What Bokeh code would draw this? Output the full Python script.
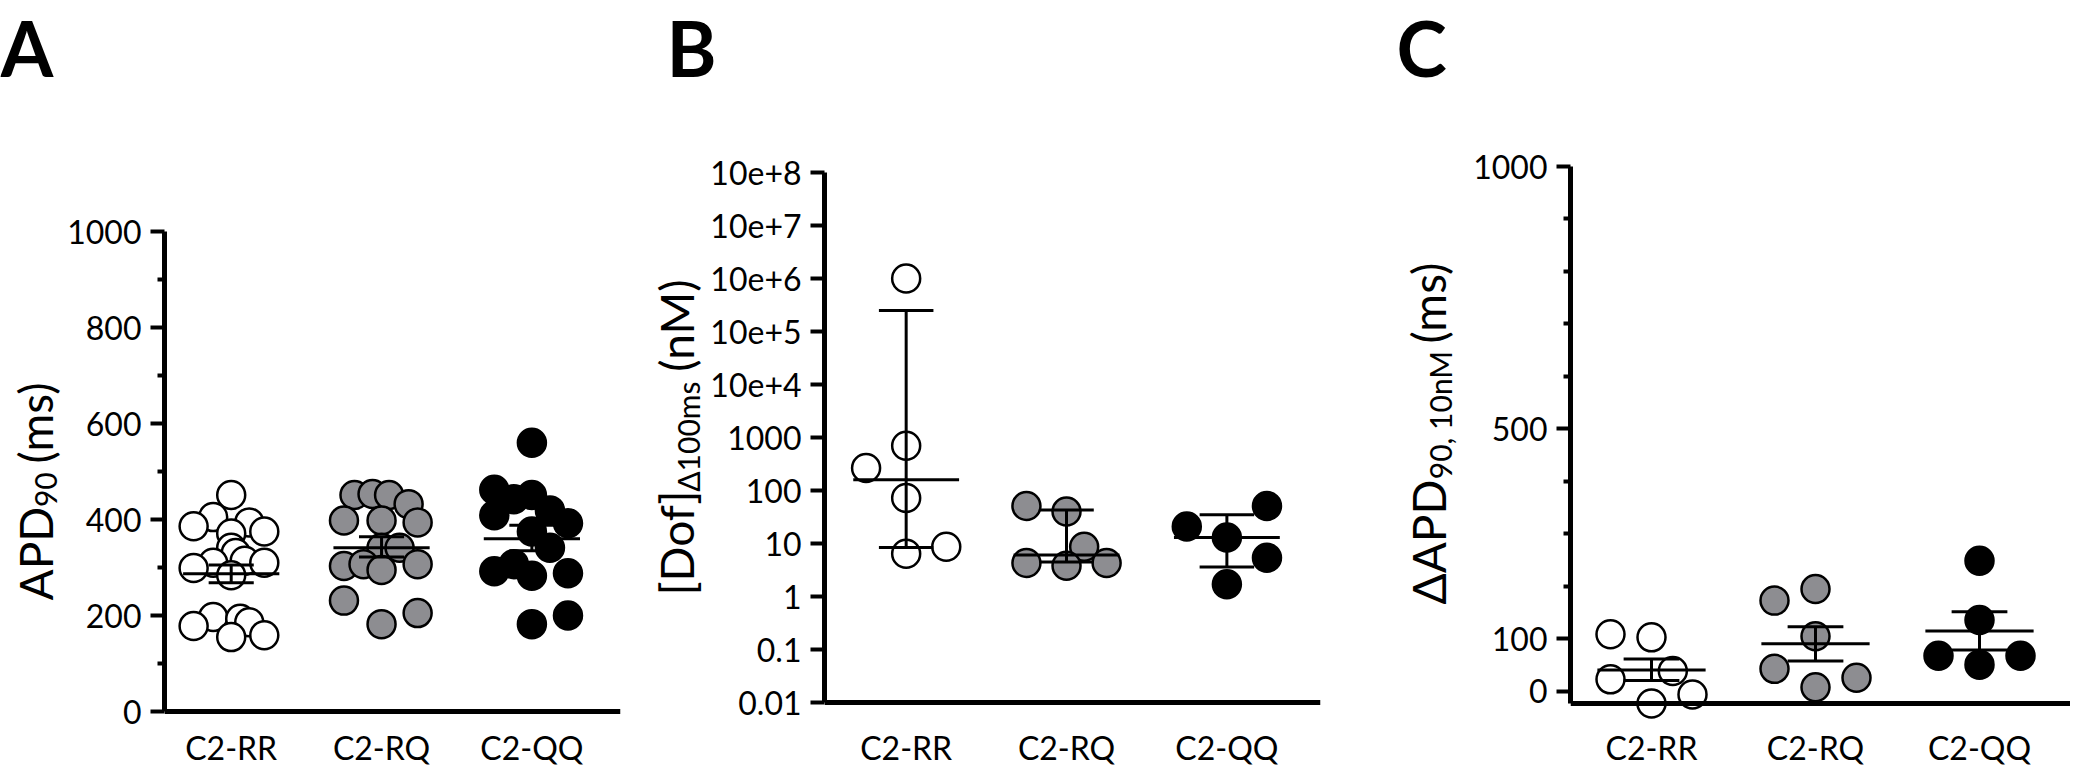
import math
from bokeh.plotting import figure
from bokeh.layouts import row, column
from bokeh.models import FixedTicker, Range1d
from bokeh.core.properties import value
from bokeh.embed import file_html
from bokeh.resources import INLINE

categories = ["C2-RR", "C2-RQ", "C2-QQ"]
panel_letters = ["A", "B", "C"]

# ---------------- Panel A : APD90 (ms) ----------------
a_rr = [451, 405, 394, 386, 375, 371, 341, 330, 310, 314, 299, 310, 284, 197, 193, 186, 178, 155, 159]
a_rr_jit = [0, -0.12, 0.12, -0.25, 0.22, 0, 0, 0.03, -0.12, 0.09, -0.25, 0.22, 0, -0.12, 0.06, 0.12, -0.25, 0, 0.22]
a_rq = [451, 453, 451, 432, 398, 398, 394, 341, 341, 303, 307, 295, 307, 231, 205, 182]
a_rq_jit = [-0.18, -0.06, 0.05, 0.18, -0.25, 0, 0.24, 0, 0.12, -0.25, -0.12, 0, 0.24, -0.25, 0.24, 0]
a_qq = [560, 462, 442, 451, 419, 392, 409, 375, 341, 307, 292, 283, 288, 200, 182]
a_qq_jit = [0, -0.25, -0.12, 0, 0.12, 0.24, -0.25, 0, 0.12, -0.12, -0.25, 0, 0.24, 0.24, 0]
a_mean = [287, 341, 360]
a_hi = [305, 364, 388]
a_lo = [268, 322, 335]
a_ticks = [0, 200, 400, 600, 800, 1000]
a_minor = [100, 300, 500, 700, 900]
a_title = ["APD", "90", "(ms)"]

# ---------------- Panel B : [Dof] delta100ms (nM), log axis ----------------
b_rr = [1.0e6, 700, 265, 72, 8.7, 6.4]
b_rr_jit = [0, 0, -0.25, 0, 0.25, 0]
b_rq = [51, 40, 8.7, 4.3, 3.8, 4.3]
b_rq_jit = [-0.25, 0, 0.11, -0.25, 0, 0.25]
b_qq = [51, 21, 13, 5.4, 1.7]
b_qq_jit = [0.25, -0.25, 0, 0.25, 0]
b_mid = [160, 6.1, 13]
b_hi = [2.5e5, 43, 35]
b_lo = [8.4, 4.5, 3.6]
b_ticks = [0.01, 0.1, 1, 10, 100, 1000, 1e4, 1e5, 1e6, 1e7, 1e8]
b_tick_labels = ["0.01", "0.1", "1", "10", "100", "1000", "10e+4", "10e+5", "10e+6", "10e+7", "10e+8"]
b_title = ["[Dof]", "\u0394100ms", "(nM)"]

# ---------------- Panel C : dAPD90,10nM (ms) ----------------
c_rr = [109, 103, 23, 39, -23, -6]
c_rr_jit = [-0.25, 0, -0.25, 0.13, 0, 0.25]
c_rq = [173, 195, 105, 43, 26, 8]
c_rq_jit = [-0.25, 0, 0, -0.25, 0.25, 0]
c_qq = [249, 136, 68, 68, 51]
c_qq_jit = [0, 0, -0.25, 0.25, 0]
c_mean = [41, 91, 115]
c_hi = [62, 123, 152]
c_lo = [21, 58, 79]
c_ticks = [0, 100, 500, 1000]
c_minor = [200, 300, 400, 600, 700, 800, 900]
c_axis_cross = -23
c_title = ["\u0394APD", "90, 10nM", "(ms)"]

FILLS = ["white", "#8d8d91", "black"]
FONT = "Lato"
ASC, DESC = 0.987, 0.213                 # Lato ascent / descent (em)
SHIFT_EM = (ASC - DESC) / 2              # glyph anchor sits this far above the drawn baseline

# ---------------- page geometry (page pixels) ----------------
PAGE_W = 2070
TOP_STRIP = (0, 95)      # panel letters
MID = (95, 770)          # plots, titles, category names
FT, FB = 166, 768        # common frame top / bottom of every figure of the middle row
CAT_SIZE = 32
CAT_BASE = 759


def base_fig(width, height, xr, yr, log=False, **borders):
    p = figure(width=width, height=height, x_range=Range1d(*xr), y_range=Range1d(*yr),
               y_axis_type="log" if log else "linear",
               output_backend="svg", toolbar_location=None, **borders)
    p.outline_line_color = None
    p.grid.visible = False
    p.background_fill_color = "white"
    p.border_fill_color = "white"
    return p


def text_fig(x0, x1, y0, y1, frame_top=None, frame_bot=None):
    """Figure without axes; data x = page x, data y = y1 - page y."""
    ft = y0 if frame_top is None else frame_top
    fb = y1 if frame_bot is None else frame_bot
    return base_fig(x1 - x0, y1 - y0, (x0, x1), (y1 - fb, y1 - ft),
                    x_axis_location=None, y_axis_location=None,
                    min_border_left=0, min_border_right=0,
                    min_border_top=ft - y0, min_border_bottom=y1 - fb)


def main_fig(x0, x1, fl, fr, c1, unit, y_map, log=False):
    """y_map = (value_a, page_y_a, value_b, page_y_b)."""
    va, pa, vb, pb = y_map
    if log:
        la, lb = math.log10(va), math.log10(vb)
        per = (pa - pb) / (lb - la)
        yr = (10 ** (la - (FB - pa) / per), 10 ** (lb + (pb - FT) / per))

        def ydata(py):
            return 10 ** (la + (pa - py) / per)
    else:
        per = (pa - pb) / (vb - va)
        yr = (va - (FB - pa) / per, vb + (pb - FT) / per)

        def ydata(py):
            return va + (pa - py) / per
    xr = (1 + (fl - c1) / unit, 1 + (fr - c1) / unit)
    p = base_fig(x1 - x0, MID[1] - MID[0], xr, yr, log=log,
                 min_border_left=fl - x0, min_border_right=x1 - fr,
                 min_border_top=FT - MID[0], min_border_bottom=MID[1] - FB)
    for ax in p.axis:
        ax.axis_line_width = 5
        ax.axis_line_color = "black"
        ax.major_tick_line_width = 4
        ax.minor_tick_line_width = 4
        ax.major_tick_in = 0
        ax.minor_tick_in = 0
        ax.major_label_text_font = FONT
        ax.major_label_text_font_size = "32px"
        ax.major_label_text_color = "black"
    p.xaxis.ticker = FixedTicker(ticks=[])
    p.xaxis.major_tick_out = 0
    p.xaxis.minor_tick_out = 0
    p.yaxis.major_tick_out = 14
    p.yaxis.minor_tick_out = 7
    p.yaxis.major_label_standoff = 9
    p.yaxis.bounds = (va, vb)
    p.xaxis.fixed_location = va
    # category names under the axis
    yc = ydata(CAT_BASE - SHIFT_EM * CAT_SIZE)
    p.text(x=[1, 2, 3], y=[yc] * 3, text=categories,
           text_font=value(FONT), text_font_size=value(f"{CAT_SIZE}px"),
           text_align="center", text_baseline="alphabetic", text_color="black")
    return p


def draw_groups(p, groups, jits, mid, hi, lo, half_mean, half_cap):
    for i, (vals, jit) in enumerate(zip(groups, jits)):
        xs = [i + 1 + d for d in jit]
        p.scatter(xs, vals, size=28, marker="circle", fill_color=FILLS[i],
                  line_color="black", line_width=2.5)
    cx = [i + 1 for i in range(len(mid))]
    kw = dict(line_color="black", line_width=3)
    p.segment([c - half_mean for c in cx], mid, [c + half_mean for c in cx], mid, **kw)
    p.segment([c - half_cap for c in cx], hi, [c + half_cap for c in cx], hi, **kw)
    p.segment([c - half_cap for c in cx], lo, [c + half_cap for c in cx], lo, **kw)
    p.segment(cx, lo, cx, hi, **kw)


def title_fig(x0, x1, base_px, start_py, parts, widths_em, main=46, sub=30, sub_shift=4, gap_em=0.193):
    """Vertical axis title (reads bottom to top) built from main / subscript / main parts."""
    p = text_fig(x0, x1, MID[0], MID[1], FT, FB)
    py = start_py
    sizes = [main, sub, main]
    for k, (txt, w) in enumerate(zip(parts, widths_em)):
        if k == 2:
            py -= gap_em * main
        bx = base_px + (sub_shift if k == 1 else 0) - SHIFT_EM * sizes[k]
        p.text(x=[bx], y=[MID[1] - py], text=[txt], angle=math.pi / 2,
               text_font=value(FONT), text_font_size=value(f"{sizes[k]}px"),
               text_align="left", text_baseline="alphabetic", text_color="black")
        py -= w * sizes[k]
    return p


# ---------- middle row ----------
pA = main_fig(64, 645, 162, 620, 229, 151, (0, 711, 1000, 231))
pA.yaxis.ticker = FixedTicker(ticks=a_ticks, minor_ticks=a_minor)
draw_groups(pA, [a_rr, a_rq, a_qq], [a_rr_jit, a_rq_jit, a_qq_jit], a_mean, a_hi, a_lo, 0.32, 0.15)

pB = main_fig(707, 1380, 822, 1320, 904, 161, (0.01, 702, 1e8, 172), log=True)
pB.yaxis.ticker = FixedTicker(ticks=b_ticks, minor_ticks=[])
pB.yaxis.major_label_overrides = {t: s for t, s in zip(b_ticks, b_tick_labels)}
pB.yaxis.minor_tick_out = 0
draw_groups(pB, [b_rr, b_rq, b_qq], [b_rr_jit, b_rq_jit, b_qq_jit], b_mid, b_hi, b_lo, 0.33, 0.17)

pC = main_fig(1460, PAGE_W, 1570, PAGE_W, 1651, 164, (c_axis_cross, 703, 1000, 166))
pC.yaxis.ticker = FixedTicker(ticks=c_ticks, minor_ticks=c_minor)
draw_groups(pC, [c_rr, c_rq, c_qq], [c_rr_jit, c_rq_jit, c_qq_jit], c_mean, c_hi, c_lo, 0.33, 0.17)

tA = title_fig(0, 64, 53, 600, a_title, [2.03, 1.16, 1.885])
tB = title_fig(645, 707, 694, 595, b_title, [2.256, 3.705, 2.10], sub_shift=5)
tC = title_fig(1380, 1460, 1446, 604, c_title, [2.724, 4.224, 1.885], sub_shift=5)

middle = row(tA, pA, tB, pB, tC, pC)

# ---------- top strip: panel letters ----------
top = text_fig(0, PAGE_W, TOP_STRIP[0], TOP_STRIP[1])
LET_SIZE = 76
LET_BASE = ASC * LET_SIZE + 1
top.text(x=[0, 666, 1396], y=[TOP_STRIP[1] - (LET_BASE - SHIFT_EM * LET_SIZE)] * 3, text=panel_letters,
         text_font=value(FONT), text_font_size=value(f"{LET_SIZE}px"), text_font_style="bold",
         text_align="left", text_baseline="alphabetic", text_color="black")

layout = column(top, middle)
open("out.html", "w").write(file_html(layout, INLINE))
